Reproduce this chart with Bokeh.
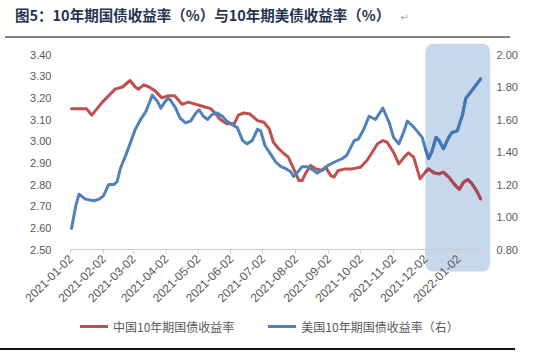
from datetime import datetime
import pandas as pd
from bokeh.plotting import figure
from bokeh.layouts import column
from bokeh.models import (Range1d, LinearAxis, DatetimeTickFormatter, FixedTicker, Div,
                          BoxAnnotation, Legend, LegendItem, NumeralTickFormatter)
from bokeh.embed import file_html
from bokeh.resources import INLINE

# ---------------- data ----------------
cn_dates = ["2021-01-03", "2021-01-13", "2021-01-17", "2021-01-22", "2021-01-27", "2021-02-01",
            "2021-02-07", "2021-02-13", "2021-02-20", "2021-02-27", "2021-03-04", "2021-03-07",
            "2021-03-12", "2021-03-17", "2021-03-23", "2021-03-29", "2021-04-04", "2021-04-10",
            "2021-04-17", "2021-04-23", "2021-04-30", "2021-05-07", "2021-05-14", "2021-05-18",
            "2021-05-23", "2021-05-29", "2021-06-05", "2021-06-09", "2021-06-14", "2021-06-20",
            "2021-06-27", "2021-07-03", "2021-07-08", "2021-07-12", "2021-07-17", "2021-07-22",
            "2021-07-26", "2021-07-31", "2021-08-05", "2021-08-08", "2021-08-11", "2021-08-16",
            "2021-08-21", "2021-08-27", "2021-08-30", "2021-09-04", "2021-09-07", "2021-09-11",
            "2021-09-18", "2021-09-24", "2021-10-02", "2021-10-08", "2021-10-13", "2021-10-18",
            "2021-10-23", "2021-10-27", "2021-11-02", "2021-11-07", "2021-11-12", "2021-11-16",
            "2021-11-21", "2021-11-27", "2021-12-02", "2021-12-05", "2021-12-10", "2021-12-15",
            "2021-12-19", "2021-12-24", "2021-12-29", "2022-01-03", "2022-01-07", "2022-01-11",
            "2022-01-15", "2022-01-20", "2022-01-23"]
cn_yield = [3.15, 3.15, 3.15, 3.12, 3.15, 3.18,
            3.21, 3.24, 3.25, 3.28, 3.25, 3.24,
            3.26, 3.25, 3.23, 3.20, 3.21, 3.21,
            3.17, 3.18, 3.17, 3.16, 3.15, 3.13,
            3.10, 3.08, 3.08, 3.12, 3.13, 3.125,
            3.095, 3.087, 3.057, 2.995, 2.965, 2.942,
            2.926, 2.872, 2.818, 2.818, 2.849, 2.888,
            2.872, 2.865, 2.88, 2.841, 2.834, 2.865,
            2.872, 2.872, 2.88, 2.911, 2.949, 2.988,
            3.003, 2.995, 2.949, 2.895, 2.926, 2.946,
            2.926, 2.826, 2.857, 2.872, 2.854, 2.849,
            2.857, 2.834, 2.803, 2.777, 2.811, 2.823,
            2.803, 2.764, 2.734]

us_dates = ["2021-01-03", "2021-01-07", "2021-01-10", "2021-01-16", "2021-01-24", "2021-01-29",
            "2021-02-02", "2021-02-07", "2021-02-12", "2021-02-15", "2021-02-18", "2021-02-23",
            "2021-02-27", "2021-03-04", "2021-03-09", "2021-03-14", "2021-03-17", "2021-03-20",
            "2021-03-25", "2021-03-28", "2021-04-01", "2021-04-04", "2021-04-06", "2021-04-11",
            "2021-04-15", "2021-04-20", "2021-04-25", "2021-04-30", "2021-05-03", "2021-05-07",
            "2021-05-11", "2021-05-15", "2021-05-20", "2021-05-25", "2021-05-29", "2021-06-03",
            "2021-06-08", "2021-06-13", "2021-06-17", "2021-06-22", "2021-06-27", "2021-06-30",
            "2021-07-04", "2021-07-09", "2021-07-14", "2021-07-19", "2021-07-23", "2021-07-28",
            "2021-07-31", "2021-08-03", "2021-08-08", "2021-08-13", "2021-08-18", "2021-08-22",
            "2021-08-27", "2021-09-02", "2021-09-08", "2021-09-15", "2021-09-19", "2021-09-26",
            "2021-09-30", "2021-10-05", "2021-10-10", "2021-10-16", "2021-10-21", "2021-10-23",
            "2021-10-29", "2021-11-02", "2021-11-07", "2021-11-12", "2021-11-15", "2021-11-20",
            "2021-11-24", "2021-11-29", "2021-12-02", "2021-12-05", "2021-12-08", "2021-12-12",
            "2021-12-15", "2021-12-19", "2021-12-24", "2021-12-27", "2022-01-01", "2022-01-06",
            "2022-01-09", "2022-01-15", "2022-01-23"]
us_yield = [0.93, 1.07, 1.14, 1.11, 1.10, 1.11,
            1.13, 1.20, 1.20, 1.22, 1.30, 1.38,
            1.45, 1.54, 1.60, 1.65, 1.70, 1.75,
            1.71, 1.67, 1.71, 1.73, 1.72, 1.67,
            1.61, 1.58, 1.59, 1.64, 1.66, 1.62,
            1.60, 1.63, 1.64, 1.62, 1.59, 1.57,
            1.55, 1.47, 1.45, 1.47, 1.54, 1.53,
            1.44, 1.39, 1.34, 1.31, 1.30, 1.28,
            1.25, 1.27, 1.31, 1.31, 1.29, 1.27,
            1.29, 1.32, 1.34, 1.36, 1.38, 1.47,
            1.48, 1.54, 1.62, 1.60, 1.65, 1.67,
            1.58, 1.49, 1.45, 1.53, 1.59, 1.56,
            1.53, 1.49, 1.42, 1.36, 1.40, 1.49,
            1.47, 1.42, 1.49, 1.52, 1.53, 1.63,
            1.73, 1.78, 1.85]

x_tick_labels = ["2021-01-02", "2021-02-02", "2021-03-02", "2021-04-02", "2021-05-02", "2021-06-02",
                 "2021-07-02", "2021-08-02", "2021-09-02", "2021-10-02", "2021-11-02", "2021-12-02",
                 "2022-01-02"]
left_ticks = [2.50, 2.60, 2.70, 2.80, 2.90, 3.00, 3.10, 3.20, 3.30, 3.40]
right_ticks = [0.80, 1.00, 1.20, 1.40, 1.60, 1.80, 2.00]

title_text = "图5：10年期国债收益率（%）与10年期美债收益率（%）"
cn_label = "中国10年期国债收益率"
us_label = "美国10年期国债收益率（右）"
highlight_start = "2021-12-02"
highlight_end = "2022-02-01"

# ---------------- styling / geometry ----------------
RED = "#c0504d"
BLUE = "#4f81bd"
RED_DARK = "#a54a56"
BLUE_DARK = "#4477b5"
SHADE = "#c8d8ec"
TICK_COLOR = "#595959"
FONT = "Liberation Sans"
CJK = "Noto Sans CJK SC"

W = 540
PX_PER_DAY = 1.0625        # horizontal scale
PLOT_LEFT, PLOT_RIGHT = 70, 482   # where the axes sit on the canvas
L_PX = 195 / 0.9           # px per unit, left axis
R_PX = 195 / 1.2           # px per unit, right axis
PAD_TOP = 11               # canvas room above 3.40 / 2.00
PAD_BOTTOM = 93            # canvas room below 2.50 / 0.80 (axis labels, legend)
SHADE_BELOW = 22           # highlight reaches this far below the axis line

x0 = pd.Timestamp(x_tick_labels[0])
x_axis_end = x0 + pd.Timedelta(days=(PLOT_RIGHT - PLOT_LEFT) / PX_PER_DAY)
x_view_start = x0 - pd.Timedelta(days=PLOT_LEFT / PX_PER_DAY)
x_view_end = x0 + pd.Timedelta(days=(W - PLOT_LEFT) / PX_PER_DAY)
to_ms = lambda t: t.value / 1e6

cn_x = pd.to_datetime(cn_dates)
us_x = pd.to_datetime(us_dates)
hl_start = pd.Timestamp(highlight_start)
hl_end = pd.Timestamp(highlight_end)

title_div = Div(
    text=(
        '<div style="position:relative;width:540px;height:43px;">'
        f'<div style="position:absolute;left:15px;top:4px;font-family:\'{CJK}\';font-size:14.5px;'
        'font-weight:bold;color:#1f3552;white-space:nowrap;line-height:22px;">'
        f'{title_text}<span style="color:#aaaaaa;font-size:10px;font-weight:normal;'
        'margin-left:10px;font-family:\'DejaVu Sans\';">↵</span></div>'
        '<div style="position:absolute;left:5px;top:36px;width:505px;height:1.5px;'
        'background:#808080;"></div></div>'
    ),
    width=540, height=43, margin=0)

p = figure(width=W, height=299, output_backend="svg", toolbar_location=None,
           x_axis_type="datetime",
           x_range=Range1d(x_view_start, x_view_end),
           y_range=Range1d(left_ticks[0] - PAD_BOTTOM / L_PX, left_ticks[-1] + PAD_TOP / L_PX),
           min_border_left=0, min_border_right=0, min_border_top=0, min_border_bottom=0,
           margin=0)
p.extra_y_ranges = {"right": Range1d(right_ticks[0] - PAD_BOTTOM / R_PX,
                                     right_ticks[-1] + PAD_TOP / R_PX)}
p.outline_line_color = None
p.xgrid.visible = False
p.ygrid.visible = False
p.background_fill_color = "white"
p.border_fill_color = "white"

shade = BoxAnnotation(left=hl_start, right=hl_end, bottom=left_ticks[0] - SHADE_BELOW / L_PX,
                      fill_color=SHADE, fill_alpha=1.0, line_alpha=0, border_radius=8,
                      level="underlay")
p.add_layout(shade)

r_cn = p.line(cn_x, cn_yield, line_color=RED, line_width=3, line_join="round", line_cap="round")
r_us = p.line(us_x, us_yield, line_color=BLUE, line_width=3, line_join="round", line_cap="round",
              y_range_name="right")
cn_in = [i for i, d in enumerate(cn_x) if d >= hl_start]
us_in = [i for i, d in enumerate(us_x) if d >= hl_start]
p.line([cn_x[i] for i in cn_in], [cn_yield[i] for i in cn_in], line_color=RED_DARK, line_width=3,
       line_join="round", line_cap="round")
p.line([us_x[i] for i in us_in], [us_yield[i] for i in us_in], line_color=BLUE_DARK, line_width=3,
       line_join="round", line_cap="round", y_range_name="right")

# bottom axis pinned at 2.50, line limited to the plot span
xt = [to_ms(pd.Timestamp(s)) for s in x_tick_labels]
xa = p.xaxis[0]
xa.fixed_location = left_ticks[0]
xa.bounds = (to_ms(x0), to_ms(x_axis_end))
xa.ticker = FixedTicker(ticks=xt)
fmt = "%Y-%m-%d"
xa.formatter = DatetimeTickFormatter(milliseconds=fmt, seconds=fmt, minsec=fmt, minutes=fmt,
                                     hourmin=fmt, hours=fmt, days=fmt, months=fmt, years=fmt)
xa.major_label_orientation = 0.785398
xa.axis_line_color = "#cccccc"
xa.axis_line_width = 1
xa.major_tick_line_color = "#cccccc"
xa.major_tick_out = 4
xa.major_tick_in = 0
xa.minor_tick_line_color = None
xa.major_label_text_font = FONT
xa.major_label_text_font_size = "12px"
xa.major_label_text_color = TICK_COLOR
xa.major_label_standoff = 3

# left axis pinned at the first date
ya = p.yaxis[0]
ya.fixed_location = to_ms(x0)
ya.ticker = FixedTicker(ticks=left_ticks)
ya.formatter = NumeralTickFormatter(format="0.00")
ya.axis_line_color = None
ya.major_tick_line_color = None
ya.minor_tick_line_color = None
ya.major_label_text_font = FONT
ya.major_label_text_font_size = "11px"
ya.major_label_text_color = TICK_COLOR
ya.major_label_standoff = 13

# right axis pinned at the end of the plot span
ra = LinearAxis(y_range_name="right", ticker=FixedTicker(ticks=right_ticks),
                formatter=NumeralTickFormatter(format="0.00"),
                fixed_location=to_ms(x_axis_end))
ra.axis_line_color = None
ra.major_tick_line_color = None
ra.minor_tick_line_color = None
ra.major_label_text_font = FONT
ra.major_label_text_font_size = "11px"
ra.major_label_text_color = TICK_COLOR
ra.major_label_standoff = 8
p.add_layout(ra, "right")

legend = Legend(items=[LegendItem(label=cn_label, renderers=[r_cn]),
                       LegendItem(label=us_label, renderers=[r_us])],
                orientation="horizontal", location=(PLOT_LEFT + 10, 6),
                glyph_width=28, glyph_height=20, label_height=20, label_standoff=5, spacing=34,
                padding=0, margin=0, border_line_color=None, background_fill_alpha=0,
                label_text_font=CJK, label_text_font_size="12px", label_text_color=TICK_COLOR)
p.add_layout(legend)

bottom_div = Div(
    text='<div style="position:relative;width:540px;height:13px;">'
         '<div style="position:absolute;left:0px;top:6px;width:515px;height:2px;background:#111111;">'
         '</div></div>',
    width=540, height=13, margin=0)

layout = column(title_div, p, bottom_div, spacing=0, margin=0)

open("out.html", "w").write(file_html(layout, INLINE))
